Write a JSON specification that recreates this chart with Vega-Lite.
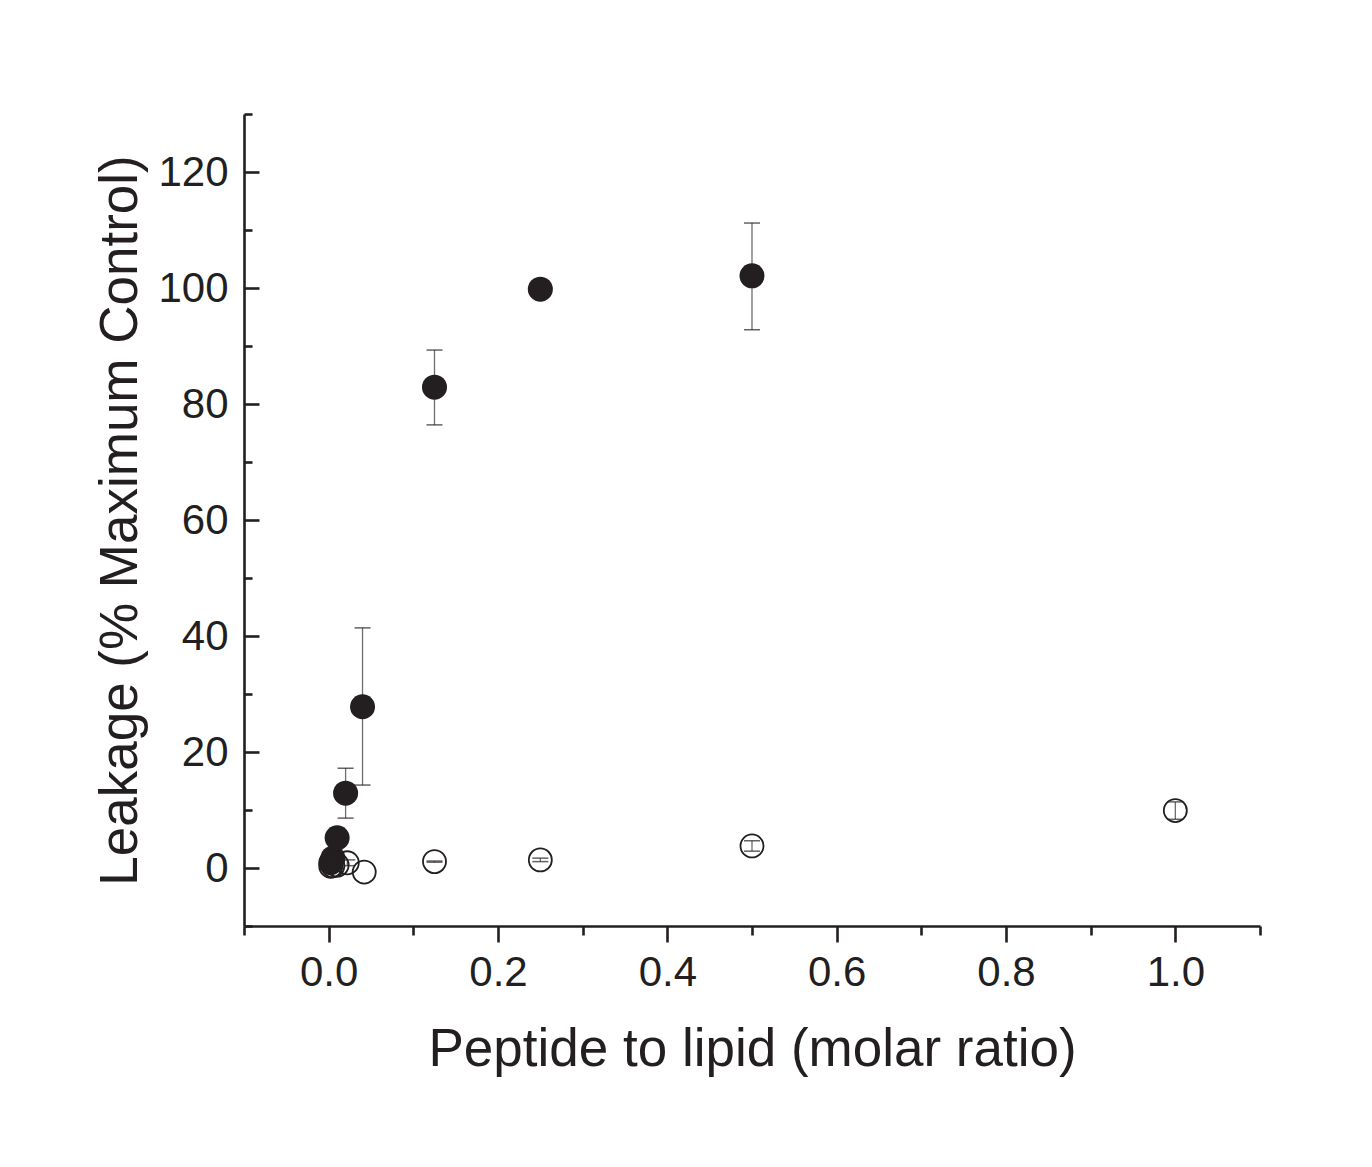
{
  "$schema": "https://vega.github.io/schema/vega-lite/v6.json",
  "autosize": "none",
  "width": 1016,
  "height": 812,
  "padding": {"left": 244, "top": 114, "right": 112, "bottom": 241},
  "background": "white",
  "config": {
    "view": {"stroke": null},
    "font": "Liberation Sans",
    "axis": {
      "grid": false,
      "domainColor": "#231f20",
      "domainWidth": 2.6,
      "tickColor": "#231f20",
      "tickWidth": 2.6,
      "labelColor": "#231f20",
      "labelFont": "Liberation Sans",
      "labelFontSize": 42,
      "titleColor": "#231f20",
      "titleFont": "Liberation Sans",
      "titleFontSize": 53,
      "titleFontWeight": "normal"
    }
  },
  "data": {
    "values": [
      {"ratio": 0.0025, "leak": 0.9, "series": "peptide"},
      {"ratio": 0.005, "leak": 1.7, "series": "peptide"},
      {"ratio": 0.01, "leak": 5.2, "series": "peptide"},
      {"ratio": 0.02, "leak": 12.9, "lo": 8.6, "hi": 17.2, "series": "peptide"},
      {"ratio": 0.04, "leak": 27.8, "lo": 14.3, "hi": 41.4, "series": "peptide"},
      {"ratio": 0.125, "leak": 82.9, "lo": 76.4, "hi": 89.3, "series": "peptide"},
      {"ratio": 0.25, "leak": 99.8, "series": "peptide"},
      {"ratio": 0.5, "leak": 102.1, "lo": 92.8, "hi": 111.2, "series": "peptide"},
      {"ratio": 0.0025, "leak": 0.3, "series": "control"},
      {"ratio": 0.005, "leak": 0.4, "series": "control"},
      {"ratio": 0.01, "leak": 0.5, "series": "control"},
      {"ratio": 0.022, "leak": 0.9, "lo": 0.4, "hi": 1.4, "series": "control"},
      {"ratio": 0.042, "leak": -0.7, "series": "control"},
      {"ratio": 0.125, "leak": 1.1, "lo": 1.0, "hi": 1.2, "series": "control"},
      {"ratio": 0.25, "leak": 1.4, "lo": 1.1, "hi": 1.7, "series": "control"},
      {"ratio": 0.5, "leak": 3.8, "lo": 2.9, "hi": 4.7, "series": "control"},
      {"ratio": 1.0, "leak": 9.9, "lo": 8.4, "hi": 11.4, "series": "control"}
    ]
  },
  "encoding": {
    "x": {
      "field": "ratio",
      "type": "quantitative",
      "scale": {"domain": [-0.1, 1.1], "nice": false, "zero": false},
      "axis": {
        "title": "Peptide to lipid (molar ratio)",
        "values": [-0.1, 0, 0.1, 0.2, 0.3, 0.4, 0.5, 0.6, 0.7, 0.8, 0.9, 1.0, 1.1],
        "format": ".1f",
        "labelExpr": "abs(round(datum.value * 10)) % 2 === 0 ? datum.label : ''",
        "tickSize": {"condition": {"test": "abs(round(datum.value * 10)) % 2 === 0", "value": 16}, "value": 9},
        "labelPadding": 10,
        "titlePadding": 30,
        "labelFlush": false,
        "labelOverlap": false
      }
    },
    "y": {
      "field": "leak",
      "type": "quantitative",
      "scale": {"domain": [-10, 130], "nice": false, "zero": false},
      "axis": {
        "title": "Leakage (% Maximum Control)",
        "values": [-10, 0, 10, 20, 30, 40, 50, 60, 70, 80, 90, 100, 110, 120, 130],
        "labelExpr": "datum.value % 20 === 0 ? datum.label : ''",
        "tickSize": {"condition": {"test": "datum.value % 20 === 0", "value": -15}, "value": -8},
        "labelPadding": 31,
        "titlePadding": 10,
        "labelFlush": false,
        "labelOverlap": false
      }
    }
  },
  "layer": [
    {
      "mark": {"type": "rule", "color": "#6d6e71", "strokeWidth": 1.3},
      "encoding": {"y": {"field": "lo", "type": "quantitative"}, "y2": {"field": "hi"}}
    },
    {
      "mark": {"type": "tick", "color": "#231f20", "thickness": 1.5, "size": 16, "orient": "horizontal"},
      "encoding": {"y": {"field": "lo", "type": "quantitative"}}
    },
    {
      "mark": {"type": "tick", "color": "#231f20", "thickness": 1.5, "size": 16, "orient": "horizontal"},
      "encoding": {"y": {"field": "hi", "type": "quantitative"}}
    },
    {
      "transform": [{"filter": "datum.series === 'peptide'"}],
      "mark": {"type": "point", "shape": "circle", "filled": true, "size": 625, "color": "#231f20", "opacity": 1}
    },
    {
      "transform": [{"filter": "datum.series === 'control'"}],
      "mark": {"type": "point", "shape": "circle", "filled": false, "size": 530, "color": "#231f20", "strokeWidth": 1.8, "opacity": 1}
    }
  ]
}
